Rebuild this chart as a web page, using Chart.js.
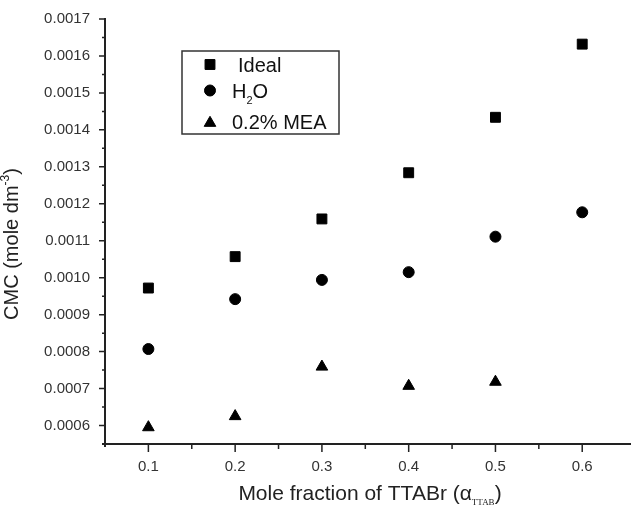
<!DOCTYPE html>
<html lang="en">
<head>
<meta charset="UTF-8">
<title>CMC vs mole fraction of TTABr</title>
<script src="https://cdn.jsdelivr.net/npm/chart.js"></script>
<style>
  body { margin: 0; background: #ffffff; }
  canvas { display: block; }
</style>
</head>
<body>
<canvas id="cmcChart" width="631" height="514"></canvas>
<script>
  // values
  const fractions = [0.1, 0.2, 0.3, 0.4, 0.5, 0.6];
  const idealCmc = [0.000972, 0.001057, 0.001159, 0.001284, 0.001434, 0.001632];
  const waterCmc = [0.000807, 0.000942, 0.000994, 0.001015, 0.001111, 0.001177];
  const meaCmc = [0.000595, 0.000625, 0.000759, 0.000707, 0.000718];
  const seriesNames = ['Ideal', 'H2O', '0.2% MEA'];
  const xTicks = [0.1, 0.2, 0.3, 0.4, 0.5, 0.6];
  const yTicks = [0.0006, 0.0007, 0.0008, 0.0009, 0.0010, 0.0011, 0.0012, 0.0013, 0.0014, 0.0015, 0.0016, 0.0017];

  const SANS = '"Liberation Sans", Arial, sans-serif';
  const toPoints = (vals) => vals.map((v, i) => ({ x: fractions[i], y: v }));

  function minorTicks(majors, scale) {
    const out = [];
    const step = majors[1] - majors[0];
    out.push(majors[0] - step / 2);
    for (let i = 0; i < majors.length - 1; i++) out.push((majors[i] + majors[i + 1]) / 2);
    out.push(majors[majors.length - 1] + step / 2);
    return out.filter(v => v > scale.min + 1e-9 && v < scale.max - 1e-9);
  }

  // draws text pieces one after another (for sub/superscripts)
  function drawRich(ctx, parts, x, y) {
    parts.forEach(p => {
      ctx.font = p.font;
      ctx.fillText(p.text, x, y + (p.dy || 0));
      x += ctx.measureText(p.text).width;
    });
  }
  function richWidth(ctx, parts) {
    let w = 0;
    parts.forEach(p => { ctx.font = p.font; w += ctx.measureText(p.text).width; });
    return w;
  }

  const decor = {
    id: 'decor',
    afterDraw(chart) {
      const { ctx, chartArea: a, scales: { x, y } } = chart;
      ctx.save();

      // axis lines
      ctx.strokeStyle = '#222';
      ctx.lineWidth = 2;
      ctx.beginPath();
      ctx.moveTo(a.left, a.top - 1);
      ctx.lineTo(a.left, a.bottom + 3);
      ctx.moveTo(a.left - 3, a.bottom);
      ctx.lineTo(chart.width, a.bottom);
      ctx.stroke();

      // tick marks
      ctx.lineWidth = 1.5;
      ctx.beginPath();
      xTicks.forEach(v => { const p = x.getPixelForValue(v); ctx.moveTo(p, a.bottom); ctx.lineTo(p, a.bottom + 8); });
      minorTicks(xTicks, x).forEach(v => { const p = x.getPixelForValue(v); ctx.moveTo(p, a.bottom); ctx.lineTo(p, a.bottom + 5); });
      yTicks.forEach(v => { const p = y.getPixelForValue(v); ctx.moveTo(a.left, p); ctx.lineTo(a.left - 6, p); });
      minorTicks(yTicks, y).forEach(v => { const p = y.getPixelForValue(v); ctx.moveTo(a.left, p); ctx.lineTo(a.left - 3, p); });
      ctx.stroke();

      ctx.fillStyle = '#222';
      ctx.textBaseline = 'alphabetic';
      ctx.textAlign = 'left';

      // x title
      const xParts = [
        { text: 'Mole fraction of TTABr (\u03b1', font: '21px ' + SANS },
        { text: 'TTAB', font: '9px "Liberation Serif", serif', dy: 5 },
        { text: ')', font: '21px ' + SANS }
      ];
      const xw = richWidth(ctx, xParts);
      drawRich(ctx, xParts, 370 - xw / 2, 500);

      // y title
      const yParts = [
        { text: 'CMC (mole dm', font: '20px ' + SANS },
        { text: '-3', font: '12px ' + SANS, dy: -9 },
        { text: ')', font: '20px ' + SANS }
      ];
      const yw = richWidth(ctx, yParts);
      ctx.save();
      ctx.translate(18, 244);
      ctx.rotate(-Math.PI / 2);
      drawRich(ctx, yParts, -yw / 2, 0);
      ctx.restore();

      // legend box
      ctx.strokeStyle = '#333';
      ctx.lineWidth = 1.5;
      ctx.strokeRect(182, 51, 157, 83);
      const rows = [
        { ds: 0, my: 64.5, tx: 238, parts: [{ text: 'Ideal', font: '20px ' + SANS }] },
        { ds: 1, my: 90.5, tx: 232, parts: [
          { text: 'H', font: '20px ' + SANS },
          { text: '2', font: '11px ' + SANS, dy: 6 },
          { text: 'O', font: '20px ' + SANS }] },
        { ds: 2, my: 123, tx: 232, parts: [{ text: '0.2% MEA', font: '20px ' + SANS }] }
      ];
      rows.forEach(r => {
        const d = chart.data.datasets[r.ds];
        ctx.fillStyle = '#000';
        ctx.strokeStyle = '#000';
        ctx.lineWidth = 1;
        Chart.helpers.drawPoint(ctx, { pointStyle: d.pointStyle, radius: d.pointRadius, rotation: 0, borderWidth: 1 }, 210, r.my);
        ctx.fillStyle = '#111';
        drawRich(ctx, r.parts, r.tx, Math.round(r.my + (r.ds === 2 ? 6 : 7)));
      });

      ctx.restore();
    }
  };

  new Chart(document.getElementById('cmcChart').getContext('2d'), {
    type: 'scatter',
    data: {
      datasets: [
        { label: seriesNames[0], data: toPoints(idealCmc), pointStyle: 'rect', pointRadius: 7,
          backgroundColor: '#000', borderColor: '#000', borderWidth: 1 },
        { label: seriesNames[1], data: toPoints(waterCmc), pointStyle: 'circle', pointRadius: 5.5,
          backgroundColor: '#000', borderColor: '#000', borderWidth: 1 },
        { label: seriesNames[2], data: toPoints(meaCmc), pointStyle: 'triangle', pointRadius: 6.7,
          backgroundColor: '#000', borderColor: '#000', borderWidth: 1 }
      ]
    },
    options: {
      responsive: false,
      animation: false,
      layout: { padding: { top: 19, right: 0, left: 0, bottom: 0 } },
      plugins: { legend: { display: false }, tooltip: { enabled: false } },
      scales: {
        x: {
          type: 'linear', min: 0.05, max: 0.647,
          grid: { display: false, drawTicks: false },
          border: { display: false },
          afterBuildTicks: s => { s.ticks = xTicks.map(v => ({ value: v })); },
          afterFit: s => { s.height = 70; s.paddingLeft = 0; s.paddingRight = 0; },
          ticks: { padding: 14, color: '#333', font: { family: SANS, size: 15 },
                   callback: v => v.toFixed(1) }
        },
        y: {
          type: 'linear', min: 0.00055, max: 0.0017,
          grid: { display: false, drawTicks: false },
          border: { display: false },
          afterBuildTicks: s => { s.ticks = yTicks.map(v => ({ value: v })); },
          afterFit: s => { s.width = 105; s.paddingTop = 0; s.paddingBottom = 0; },
          ticks: { padding: 15, color: '#333', font: { family: SANS, size: 15 },
                   callback: v => v.toFixed(4) }
        }
      }
    },
    plugins: [decor]
  });
</script>
</body>
</html>
